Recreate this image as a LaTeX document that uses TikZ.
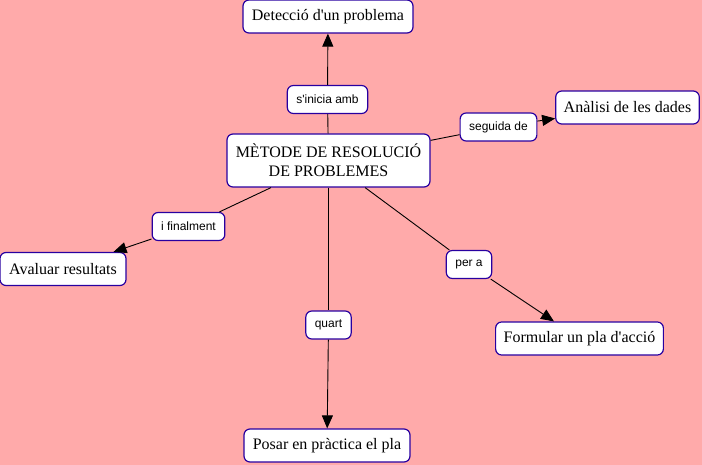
\documentclass[tikz,border=0pt]{standalone}
\usepackage{fontspec}
\setmainfont{Liberation Serif}
\newfontfamily\labelfont{Liberation Sans}
\usepackage{tikz}
\usetikzlibrary{arrows.meta}
\definecolor{pinkbg}{RGB}{255,170,170}
\definecolor{borderblue}{RGB}{40,0,160}
\newcommand{\apos}{\textquotesingle}
\tikzset{
  concept/.style={draw=borderblue, fill=white, line width=1.2pt, rounded corners=6pt,
    inner xsep=8pt, minimum height=33pt, align=center, font=\fontsize{16}{19}\selectfont},
  linklabel/.style={draw=borderblue, fill=white, line width=1.2pt, rounded corners=6pt,
    inner xsep=9pt, minimum height=28pt, font=\labelfont\fontsize{12}{14}\selectfont},
  link/.style={black, line width=0.9pt},
  linkarrow/.style={link, -{Triangle[length=13pt,width=11pt]}}
}
\begin{document}
\begin{tikzpicture}[x=1pt, y=-1pt]
  \fill[pinkbg] (0,0) rectangle (702,465);
  \useasboundingbox (0,0) rectangle (702,465);
  % concepts
  \node[concept, minimum width=203pt, minimum height=53pt] (metode) at (328.5,160.5)
    {MÈTODE DE RESOLUCIÓ\\DE PROBLEMES};
  \node[concept, minimum width=170pt] (deteccio) at (328,16.5) {Detecció d\apos un problema};
  \node[concept, minimum width=143pt] (analisi) at (627.5,107.5) {Anàlisi de les dades};
  \node[concept, minimum width=126pt] (avaluar) at (63,269) {Avaluar resultats};
  \node[concept, minimum width=167pt] (formular) at (579.5,338.5) {Formular un pla d\apos acció};
  \node[concept, minimum width=166pt] (posar) at (327,445.5) {Posar en pràctica el pla};
  % link phrases
  \node[linklabel] (inicia) at (327.5,99.5) {s\apos inicia amb};
  \node[linklabel] (seguida) at (498.5,127) {seguida de};
  \node[linklabel] (finalment) at (188.5,226.5) {i finalment};
  \node[linklabel] (pera) at (469,264.5) {per a};
  \node[linklabel] (quart) at (328.5,325) {quart};
  % center -> phrase -> concept
  \foreach \lnk/\target in {inicia/deteccio, seguida/analisi, finalment/avaluar,
                           pera/formular, quart/posar} {
    \draw[link] (metode) -- (\lnk);
    \draw[linkarrow] (\lnk) -- (\target);
  }
\end{tikzpicture}
\end{document}
